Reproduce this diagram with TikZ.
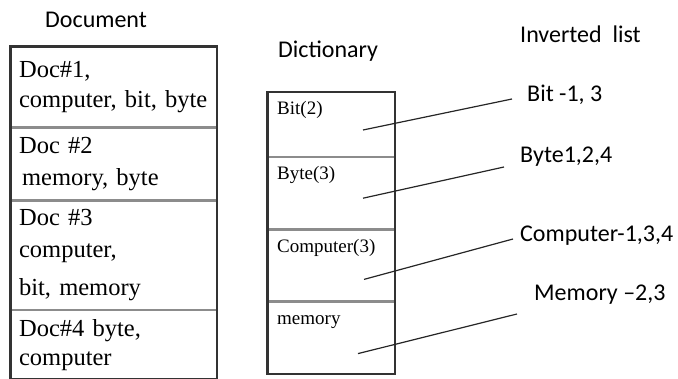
\documentclass[tikz,border=0pt]{standalone}
\usepackage{fontspec}
\setmainfont{Liberation Serif}
\newfontfamily\calibri{Carlito}
\usetikzlibrary{positioning}

\tikzset{
	doccell/.style={draw=black!45, line width=1.2pt, text width=189pt, inner xsep=8pt, inner ysep=0pt, align=left, font=\fontsize{24.5}{30}\selectfont},
	dictcell/.style={draw=black!45, line width=1.2pt, minimum width=126.5pt, inner sep=0pt},
	dictword/.style={anchor=north west, inner sep=9.5pt, text height=13pt, font=\fontsize{19}{22}\selectfont},
	heading/.style={anchor=base west, inner sep=0pt, font=\calibri\fontsize{24}{28}\selectfont},
	frame/.style={line width=2.4pt, black!80},
	ptr/.style={line width=1.2pt, black!85}
}

\begin{document}
\begin{tikzpicture}[x=1pt,y=-1pt]
	\useasboundingbox (0,0) rectangle (678,379);

	%Headings
	\node[heading] (dochead) at (45,28) {Document};
	\node[heading] (dicthead) at (278,58) {Dictionary};
	\node[heading] (invhead) at (520,43) {Inverted\ \ list};

	%Documents
	\node[doccell, anchor=north west, minimum height=80pt] (doc1) at (10.5,46.5) {Doc\#1,\\computer, bit, byte};
	\node[doccell, minimum height=71.5pt, below=0pt of doc1] (doc2) {Doc \#2\\[2pt]\hspace*{3pt}memory, byte};
	\node[doccell, minimum height=108.5pt, below=0pt of doc2] (doc3) {Doc \#3\\[2pt]computer,\\[8pt]bit, memory};
	\node[doccell, minimum height=68pt, below=0pt of doc3] (doc4) {Doc\#4 byte,\\[-1pt]computer};
	\draw[frame] (doc1.north west) rectangle (doc4.south east);

	%Dictionary
	\node[dictcell, anchor=north west, minimum height=64pt] (bit) at (267.5,92) {};
	\node[dictcell, minimum height=71pt, below=0pt of bit] (byte) {};
	\node[dictcell, minimum height=71pt, below=0pt of byte] (comp) {};
	\node[dictcell, minimum height=71.5pt, below=0pt of comp] (mem) {};
	\draw[frame] (bit.north west) rectangle (mem.south east);
	\node[dictword] (bitword) at (bit.north west) {Bit(2)};
	\node[dictword] (byteword) at (byte.north west) {Byte(3)};
	\node[dictword] (compword) at (comp.north west) {Computer(3)};
	\node[dictword] (memword) at (mem.north west) {memory};

	%Inverted list
	\node[heading] (bitinv) at (527,102) {Bit -1, 3};
	\node[heading] (byteinv) at (520,163) {Byte1,2,4};
	\node[heading] (compinv) at (520,242) {Computer-1,3,4};
	\node[heading] (meminv) at (534,301) {Memory –2,3};

	%Pointers
	\coordinate (bitptr) at ([shift={(95.5,38)}]bit.north west);
	\coordinate (byteptr) at ([shift={(95.5,41)}]byte.north west);
	\coordinate (compptr) at ([shift={(96.5,50)}]comp.north west);
	\coordinate (memptr) at ([shift={(90.5,52)}]mem.north west);
	\draw[ptr] (bitptr) -- ([shift={(-15,-3)}]bitinv.base west);
	\draw[ptr] (byteptr) -- ([shift={(-16,4)}]byteinv.base west);
	\draw[ptr] (compptr) -- ([shift={(-7,-3)}]compinv.base west);
	\draw[ptr] (memptr) -- ([shift={(-17,13)}]meminv.base west);
\end{tikzpicture}
\end{document}
